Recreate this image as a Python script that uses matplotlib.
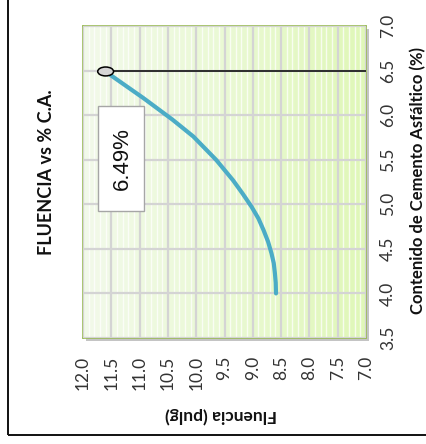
import numpy as np
import matplotlib
matplotlib.use("Agg")
import matplotlib.pyplot as plt
from matplotlib.patches import Ellipse, Rectangle
from matplotlib.colors import LinearSegmentedColormap

# Asphalt content (%) vs flow (in) fitted curve
contenido_ca = [4.00, 4.12, 4.23, 4.34, 4.45, 4.58, 4.71, 4.84, 4.97, 5.12, 5.27,
                5.50, 5.76, 5.95, 6.19, 6.31, 6.43, 6.49]
fluencia = [8.59, 8.595, 8.61, 8.63, 8.67, 8.73, 8.81, 8.90, 9.02, 9.18, 9.35,
            9.65, 10.05, 10.42, 10.93, 11.20, 11.47, 11.60]

# Optimum asphalt content and its flow value
ca_optimo = 6.49
fluencia_optima = 11.60
etiqueta_optimo = "6.49%"

ticks_fluencia = [12.0, 11.5, 11.0, 10.5, 10.0, 9.5, 9.0, 8.5, 8.0, 7.5, 7.0]
ticks_ca = [3.5, 4.0, 4.5, 5.0, 5.5, 6.0, 6.5, 7.0]

titulo = "FLUENCIA vs % C.A."
etiqueta_x = "Fluencia (pulg)"
etiqueta_y = "Contenido de Cemento Asfáltico (%)"

W, H = 427, 444
fig = plt.figure(figsize=(W / 100, H / 100), dpi=100)
fig.patch.set_facecolor("white")

FONT = "Lato"

# plot area in pixel coordinates
px_l, px_r, px_t, px_b = 83, 366, 26, 338
ax = fig.add_axes([px_l / W, 1 - px_b / H, (px_r - px_l) / W, (px_b - px_t) / H])

# drop shadow behind plot area
fig.patches.append(Rectangle(((px_l + 3) / W, 1 - (px_b + 3) / H),
                             (px_r - px_l) / W, (px_b - px_t) / H,
                             transform=fig.transFigure, facecolor="#c4c4c4",
                             edgecolor="none", zorder=-1))

# outer chart frame
fig.patches.append(Rectangle((8 / W, 1 - 435 / H), 1.2, 1.2,
                             transform=fig.transFigure, facecolor="none",
                             edgecolor="#111111", linewidth=1.4, zorder=5))

ax.set_xlim(12.0, 7.0)
ax.set_ylim(3.5, 7.0)

# gradient fill of the plot area
cmap = LinearSegmentedColormap.from_list("fondo", ["#f2faea", "#eaf9d4", "#e0f7b8"])
grad = np.linspace(0, 1, 256).reshape(1, -1)
ax.imshow(grad, cmap=cmap, extent=[12.0, 7.0, 3.5, 7.0], aspect="auto",
          zorder=0, interpolation="bilinear")

# minor (white) and major (grey) gridlines
ax.set_xticks(np.arange(7.0, 12.0001, 0.1), minor=True)
ax.grid(which="minor", axis="x", color="white", linewidth=1.0, alpha=0.75, zorder=1)
ax.set_xticks(ticks_fluencia)
ax.set_yticks(ticks_ca)
ax.grid(which="major", axis="both", color="#d4d4d4", linewidth=1.6, zorder=1)
ax.set_axisbelow(False)

ax.set_xticklabels([f"{v:.1f}" for v in ticks_fluencia])
ax.set_yticklabels([f"{v:.1f}" for v in ticks_ca])
ax.yaxis.tick_right()
ax.tick_params(axis="both", which="both", length=0)
ax.tick_params(axis="x", labelrotation=90, pad=13, labelsize=12.5, labelcolor="#333333")
ax.tick_params(axis="y", labelrotation=90, pad=10, labelsize=12.5, labelcolor="#333333")
for lab in ax.get_xticklabels() + ax.get_yticklabels():
    lab.set_fontfamily(FONT)
for lab in ax.get_yticklabels():
    lab.set_verticalalignment("center")

for s in ax.spines.values():
    s.set_color("#9bbb59")
    s.set_linewidth(1.2)

# fitted curve
ax.plot(fluencia, contenido_ca, color="#4bacc6", linewidth=3.0,
        solid_capstyle="round", solid_joinstyle="round", zorder=3)

# optimum line and marker
ax.plot([fluencia_optima, 7.0], [ca_optimo, ca_optimo], color="black",
        linewidth=1.1, zorder=4)
ax.add_patch(Ellipse((fluencia_optima, ca_optimo), 0.28, 0.10,
                     facecolor="#d6d6d6", edgecolor="black", linewidth=1.1, zorder=5))

# label box with the optimum value
ax.add_patch(Rectangle((11.735, 4.925), 10.92 - 11.735, 6.10 - 4.925,
                       facecolor="white", edgecolor="#a6a6a6", linewidth=1.0, zorder=6))
ax.text(11.30, 5.515, etiqueta_optimo, rotation=90, ha="center", va="center",
        fontsize=16, family="Liberation Sans", color="#111111", zorder=7)

# titles
fig.text(47 / W, 1 - 172 / H, titulo, rotation=90, ha="center", va="center",
         fontsize=13, fontweight="bold", family=FONT, color="#111111")
fig.text(221 / W, 1 - 415 / H, etiqueta_x, rotation=180, ha="center", va="center",
         fontsize=12.5, fontweight="bold", family=FONT, color="#111111")
fig.text(418 / W, 1 - 181 / H, etiqueta_y, rotation=90, ha="center", va="center",
         fontsize=12, fontweight="bold", family=FONT, color="#111111")

fig.savefig("out.png", dpi=100)
